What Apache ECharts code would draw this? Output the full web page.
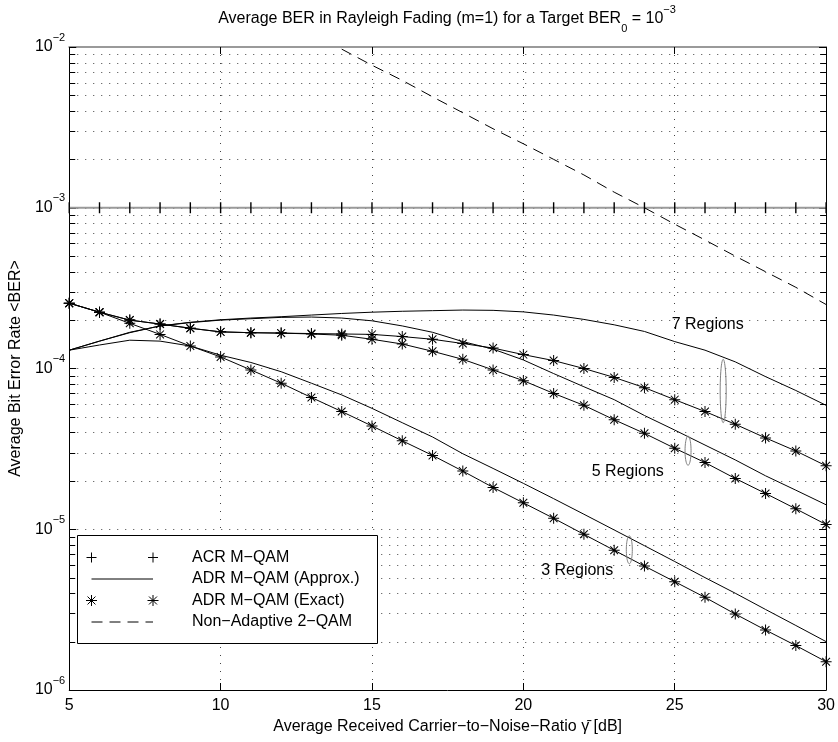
<!DOCTYPE html>
<html>
<head>
<meta charset="utf-8">
<script src="https://cdn.jsdelivr.net/npm/echarts@6/dist/echarts.min.js"></script>
<style>
  html, body { margin: 0; padding: 0; background: #fff; }
  #chart { width: 838px; height: 742px; }
</style>
</head>
<body>
<div id="chart"></div>
<script>
// Average carrier-to-noise ratio in dB (integer steps)
const snrDb = [5, 6, 7, 8, 9, 10, 11, 12, 13, 14, 15, 16, 17, 18, 19, 20, 21, 22, 23, 24, 25, 26, 27, 28, 29, 30];

// ACR M-QAM holds the target BER exactly
const acrBer = [1e-3, 1e-3, 1e-3, 1e-3, 1e-3, 1e-3, 1e-3, 1e-3, 1e-3, 1e-3, 1e-3, 1e-3, 1e-3,
                1e-3, 1e-3, 1e-3, 1e-3, 1e-3, 1e-3, 1e-3, 1e-3, 1e-3, 1e-3, 1e-3, 1e-3, 1e-3];

// ADR M-QAM, approximate BER
const approx3 = [1.30e-4, 1.40e-4, 1.50e-4, 1.48e-4, 1.38e-4, 1.21e-4, 1.09e-4, 9.55e-5, 8.1e-5, 6.85e-5, 5.65e-5, 4.6e-5, 3.75e-5,
                 2.95e-5, 2.39e-5, 1.93e-5, 1.55e-5, 1.24e-5, 9.9e-6, 7.9e-6, 6.3e-6, 5.0e-6, 4.0e-6, 3.17e-6, 2.52e-6, 2.0e-6];
const approx5 = [1.30e-4, 1.48e-4, 1.67e-4, 1.84e-4, 1.93e-4, 2.0e-4, 2.04e-4, 2.08e-4, 2.09e-4, 2.06e-4, 1.98e-4, 1.84e-4, 1.68e-4,
                 1.47e-4, 1.32e-4, 1.13e-4, 9.3e-5, 7.7e-5, 6.4e-5, 5.1e-5, 4.14e-5, 3.34e-5, 2.7e-5, 2.15e-5, 1.75e-5, 1.42e-5];
const approx7 = [1.30e-4, 1.48e-4, 1.68e-4, 1.84e-4, 1.94e-4, 2.01e-4, 2.06e-4, 2.10e-4, 2.15e-4, 2.20e-4, 2.24e-4, 2.27e-4, 2.29e-4,
                 2.31e-4, 2.30e-4, 2.25e-4, 2.15e-4, 2.02e-4, 1.87e-4, 1.70e-4, 1.47e-4, 1.30e-4, 1.10e-4, 8.9e-5, 7.3e-5, 5.9e-5];

// ADR M-QAM, exact BER
const exact3 = [2.55e-4, 2.24e-4, 1.91e-4, 1.63e-4, 1.38e-4, 1.18e-4, 9.8e-5, 8.1e-5, 6.6e-5, 5.4e-5, 4.39e-5, 3.55e-5, 2.88e-5,
                2.30e-5, 1.82e-5, 1.46e-5, 1.17e-5, 9.3e-6, 7.4e-6, 5.9e-6, 4.72e-6, 3.77e-6, 2.97e-6, 2.36e-6, 1.89e-6, 1.50e-6];
const exact5 = [2.55e-4, 2.24e-4, 2.0e-4, 1.89e-4, 1.78e-4, 1.69e-4, 1.67e-4, 1.66e-4, 1.64e-4, 1.61e-4, 1.52e-4, 1.42e-4, 1.28e-4,
                1.14e-4, 9.8e-5, 8.4e-5, 7.0e-5, 5.9e-5, 4.8e-5, 3.95e-5, 3.19e-5, 2.6e-5, 2.07e-5, 1.67e-5, 1.34e-5, 1.07e-5];
const exact7 = [2.55e-4, 2.24e-4, 2.0e-4, 1.89e-4, 1.78e-4, 1.69e-4, 1.67e-4, 1.66e-4, 1.65e-4, 1.64e-4, 1.63e-4, 1.58e-4, 1.52e-4,
                1.43e-4, 1.34e-4, 1.22e-4, 1.12e-4, 1.0e-4, 8.8e-5, 7.6e-5, 6.4e-5, 5.4e-5, 4.5e-5, 3.7e-5, 3.07e-5, 2.48e-5];

// Non-adaptive 2-QAM
const nonAdaptiveDb  = [14, 15, 16, 17, 18, 19, 20, 21, 22, 23, 24, 25, 26, 27, 28, 29, 30];
const nonAdaptiveBer = [9.7e-3, 7.7e-3, 6.2e-3, 4.9e-3, 3.9e-3, 3.1e-3, 2.5e-3, 2.0e-3, 1.6e-3, 1.25e-3, 1.0e-3,
                        7.9e-4, 6.3e-4, 5.0e-4, 4.0e-4, 3.2e-4, 2.5e-4];

// Axis ranges and tick values
const xTicks = [5, 10, 15, 20, 25, 30];
const yDecadeExponents = [-6, -5, -4, -3, -2];
const minorMultipliers = [2, 3, 4, 5, 6, 7, 8, 9];

// Region annotations (ellipses bracketing each approx/exact pair, and their labels)
const ellipseDb     = [23.5, 25.44, 26.6];
const ellipseTop    = [9.1e-6, 3.8e-5, 1.14e-4];
const ellipseBottom = [6.1e-6, 2.5e-5, 4.6e-5];
const regionText    = ['3 Regions', '5 Regions', '7 Regions'];
const regionDb      = [21.78, 23.45, 26.09];
const regionBer     = [5.5e-6, 2.27e-5, 1.87e-4];

const legendLabels = ['ACR M\u2212QAM', 'ADR M\u2212QAM (Approx.)', 'ADR M\u2212QAM (Exact)', 'Non\u2212Adaptive 2\u2212QAM'];

// ---------------------------------------------------------------------------
const FONT = '"Liberation Sans", Arial, Helvetica, sans-serif';
const X_MIN = xTicks[0], X_MAX = xTicks[xTicks.length - 1];
const Y_MIN = Math.pow(10, yDecadeExponents[0]);
const Y_MAX = Math.pow(10, yDecadeExponents[yDecadeExponents.length - 1]);

// asterisk marker: horizontal, vertical and two diagonal bars
const STAR_D = 'M0 9.1L20 9.1L20 10.9L0 10.9Z M9.1 0L10.9 0L10.9 20L9.1 20Z ' +
               'M2.29 3.57L3.57 2.29L17.71 16.43L16.43 17.71Z M16.43 2.29L17.71 3.57L3.57 17.71L2.29 16.43Z';
const VTICK_D = 'M0 0L2 0L2 20L0 20Z';
const DASH = [11, 7];
const GRID_DOTS = [1, 7];

const minorGridValues = [];
yDecadeExponents.slice(0, -1).forEach(e => {
  minorMultipliers.forEach(m => minorGridValues.push(m * Math.pow(10, e)));
});

const pairs = (xs, ys) => xs.map((x, i) => [x, ys[i]]);

function curve(name, ys, withStars) {
  return {
    type: 'line', name: name, data: pairs(snrDb, ys),
    xAxisIndex: 0, yAxisIndex: 0,
    symbol: withStars ? 'path://' + STAR_D : 'none',
    symbolSize: 11, showSymbol: !!withStars,
    lineStyle: { color: '#000', width: 1 },
    itemStyle: { color: '#000' },
    silent: true, animation: false, z: 4
  };
}

const chart = echarts.init(document.getElementById('chart'), null, { renderer: 'canvas' });

const legendBox = { x: 77, y: 535, w: 300, h: 108 };
const legendRowY = [557.5, 579, 600.5, 622];
const legendSymX = [91.5, 153];
const legendTextX = 192;

// legend markers are built from short strokes
function strokeMark(cx, cy, r, withDiagonals) {
  const seg = (x1, y1, x2, y2) => ({
    type: 'line', shape: { x1: x1, y1: y1, x2: x2, y2: y2 },
    style: { stroke: '#000', lineWidth: 1 }, z: 101
  });
  const out = [seg(cx - r, cy, cx + r, cy), seg(cx, cy - r, cx, cy + r)];
  if (withDiagonals) {
    const d = r * 0.72;
    out.push(seg(cx - d, cy - d, cx + d, cy + d), seg(cx - d, cy + d, cx + d, cy - d));
  }
  return out;
}

function legendGraphics() {
  let els = [{
    type: 'rect', shape: { x: legendBox.x + 0.5, y: legendBox.y + 0.5, width: legendBox.w, height: legendBox.h },
    style: { fill: '#fff', stroke: '#000', lineWidth: 1 }, z: 100
  }];
  legendSymX.forEach(cx => { els = els.concat(strokeMark(cx, legendRowY[0], 5, false)); });
  els.push({ type: 'line', shape: { x1: legendSymX[0], y1: legendRowY[1], x2: legendSymX[1], y2: legendRowY[1] },
             style: { stroke: '#000', lineWidth: 1 }, z: 101 });
  legendSymX.forEach(cx => { els = els.concat(strokeMark(cx, legendRowY[2], 5.5, true)); });
  els.push({ type: 'line', shape: { x1: legendSymX[0], y1: legendRowY[3], x2: legendSymX[1], y2: legendRowY[3] },
             style: { stroke: '#000', lineWidth: 1, lineDash: DASH }, z: 101 });
  legendLabels.forEach((t, i) => els.push({
    type: 'text', x: legendTextX, y: legendRowY[i],
    style: { text: t, fontSize: 16, fontFamily: FONT, fill: '#000', align: 'left', verticalAlign: 'middle' }, z: 101
  }));
  return els;
}

const expLabel = v => {
  const e = Math.round(Math.log10(v));
  return '{b|10}{e|' + String(e).replace('-', '\u2212') + '}';
};

const option = {
  backgroundColor: '#fff',
  animation: false,
  grid: { left: 67, right: 11, top: 47, bottom: 52, containLabel: false },
  xAxis: [{
    type: 'value', position: 'bottom', min: X_MIN, max: X_MAX, interval: 5,
    name: 'Average Received Carrier\u2212to\u2212Noise\u2212Ratio \u03B3\u0304 [dB]',
    nameLocation: 'middle', nameGap: 26,
    nameTextStyle: { fontSize: 16, fontFamily: FONT, color: '#000' },
    axisLine: { lineStyle: { color: '#000', width: 1 } },
    axisTick: { inside: true, length: 7, lineStyle: { color: '#000' } },
    axisLabel: { fontSize: 16, fontFamily: FONT, color: '#000', margin: 8 },
    splitLine: { show: true, lineStyle: { color: '#444', width: 1, type: GRID_DOTS } }
  }, {
    type: 'value', position: 'top', min: X_MIN, max: X_MAX, interval: 5,
    axisLine: { lineStyle: { color: '#9a9a9a', width: 2 } },
    axisTick: { inside: true, length: 7, lineStyle: { color: '#000' } },
    axisLabel: { show: false }, splitLine: { show: false }
  }],
  yAxis: [{
    type: 'log', logBase: 10, position: 'left', min: Y_MIN, max: Y_MAX,
    name: 'Average Bit Error Rate <BER>', nameLocation: 'middle', nameGap: 42,
    nameTextStyle: { fontSize: 16, fontFamily: FONT, color: '#000' },
    axisLine: { lineStyle: { color: '#000', width: 1 } },
    axisTick: { inside: true, length: 7, lineStyle: { color: '#000' } },
    axisLabel: {
      margin: 4, formatter: expLabel,
      rich: {
        b: { fontSize: 16, fontFamily: FONT, color: '#000', lineHeight: 30 },
        e: { fontSize: 11, fontFamily: FONT, color: '#000', lineHeight: 10, verticalAlign: 'top' }
      }
    },
    splitLine: { show: true, lineStyle: { color: '#444', width: 1, type: GRID_DOTS } }
  }, {
    type: 'log', logBase: 10, position: 'right', min: Y_MIN, max: Y_MAX,
    axisLine: { lineStyle: { color: '#000', width: 1 } },
    axisTick: { inside: true, length: 7, lineStyle: { color: '#000' } },
    axisLabel: { show: false }, splitLine: { show: false }
  }],
  graphic: [{
    type: 'text', x: 447, y: 19, z: 100,
    style: {
      text: '{t|Average BER in Rayleigh Fading (m=1) for a Target BER}{s|0}{t| = 10}{p|\u22123}',
      align: 'center', verticalAlign: 'middle',
      rich: {
        t: { fontSize: 16, fontFamily: FONT, fill: '#000', color: '#000', lineHeight: 30 },
        s: { fontSize: 11, fontFamily: FONT, fill: '#000', color: '#000', lineHeight: 11, verticalAlign: 'bottom' },
        p: { fontSize: 11, fontFamily: FONT, fill: '#000', color: '#000', lineHeight: 10, verticalAlign: 'top' }
      }
    }
  }].concat(legendGraphics()),
  series: [
    // minor grid lines and minor ticks on both y edges
    {
      type: 'custom', name: 'minorGrid', xAxisIndex: 0, yAxisIndex: 0, silent: true, z: 1,
      data: minorGridValues.map(v => [X_MIN, v]), encode: { x: 0, y: 1 },
      renderItem: (params, api) => {
        const v = api.value(1);
        const a = api.coord([X_MIN, v]);
        const b = api.coord([X_MAX, v]);
        const y = Math.round(a[1]) + 0.5;
        return {
          type: 'group', children: [
            { type: 'line', shape: { x1: a[0], y1: y, x2: b[0], y2: y }, style: { stroke: '#444', lineWidth: 1, lineDash: GRID_DOTS } },
            { type: 'line', shape: { x1: a[0], y1: y, x2: a[0] + 6, y2: y }, style: { stroke: '#000', lineWidth: 1 } },
            { type: 'line', shape: { x1: b[0], y1: y, x2: b[0] - 6, y2: y }, style: { stroke: '#000', lineWidth: 1 } }
          ]
        };
      }
    },
    {
      type: 'line', name: 'ACR M-QAM', data: pairs(snrDb, acrBer), xAxisIndex: 0, yAxisIndex: 0,
      symbol: 'path://' + VTICK_D, symbolSize: [1.4, 11], showSymbol: true,
      lineStyle: { color: '#9a9a9a', width: 2 }, itemStyle: { color: '#000' },
      silent: true, z: 3
    },
    curve('ADR 3 approx', approx3, false),
    curve('ADR 5 approx', approx5, false),
    curve('ADR 7 approx', approx7, false),
    curve('ADR 3 exact', exact3, true),
    curve('ADR 5 exact', exact5, true),
    curve('ADR 7 exact', exact7, true),
    {
      type: 'line', name: 'Non-Adaptive 2-QAM', data: pairs(nonAdaptiveDb, nonAdaptiveBer),
      xAxisIndex: 0, yAxisIndex: 0, symbol: 'none', showSymbol: false,
      lineStyle: { color: '#000', width: 1, type: DASH }, silent: true, z: 4
    },
    // bracketing ellipses
    {
      type: 'custom', name: 'regionEllipses', xAxisIndex: 0, yAxisIndex: 0, silent: true, z: 5,
      data: ellipseDb.map((x, i) => [x, ellipseTop[i], ellipseBottom[i]]), encode: { x: 0, y: [1, 2] },
      renderItem: (params, api) => {
        const top = api.coord([api.value(0), api.value(1)]);
        const bot = api.coord([api.value(0), api.value(2)]);
        const cx = top[0], cy = (top[1] + bot[1]) / 2, ry = (bot[1] - top[1]) / 2, rx = 3;
        const pts = [];
        for (let k = 0; k < 48; k++) {
          const t = (k / 48) * Math.PI * 2;
          pts.push([cx + rx * Math.cos(t), cy + ry * Math.sin(t)]);
        }
        return { type: 'polygon', shape: { points: pts }, style: { fill: 'none', stroke: '#808080', lineWidth: 1 } };
      }
    },
    // region labels
    {
      type: 'custom', name: 'regionLabels', xAxisIndex: 0, yAxisIndex: 0, silent: true, z: 6,
      data: regionDb.map((x, i) => [x, regionBer[i], i]), encode: { x: 0, y: 1 },
      renderItem: (params, api) => {
        const p = api.coord([api.value(0), api.value(1)]);
        return {
          type: 'text', x: p[0], y: p[1],
          style: { text: regionText[api.value(2)], fontSize: 16, fontFamily: FONT, fill: '#000',
                   align: 'center', verticalAlign: 'middle' }
        };
      }
    }
  ]
};

chart.setOption(option);
</script>
</body>
</html>
